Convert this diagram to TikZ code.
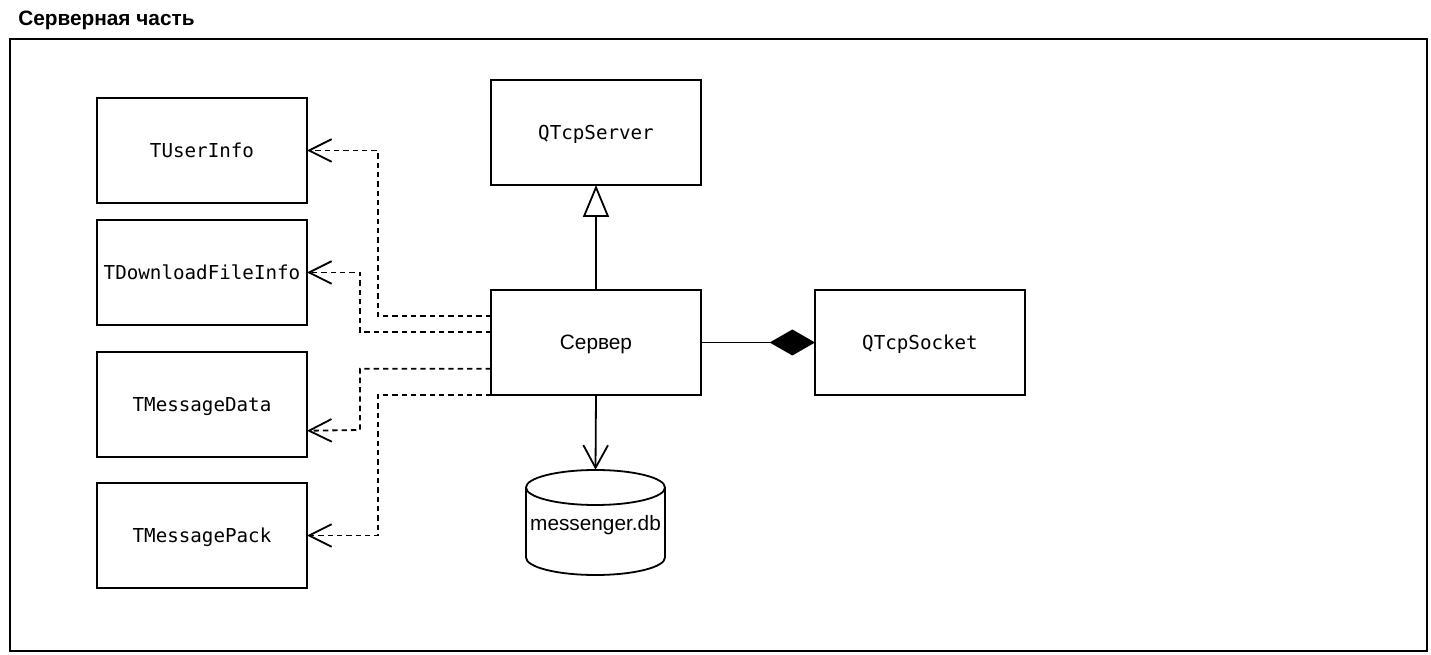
\documentclass[tikz,border=0pt]{standalone}
\usepackage{fontspec}
\setmainfont{Liberation Sans}
\newfontfamily\monofont{DejaVu Sans Mono}
\usetikzlibrary{arrows.meta,calc}
\begin{document}
\begin{tikzpicture}[x=0.75pt,y=-0.75pt,
  lw/.style={line width=1.35pt},
  box/.style={draw,lw,rectangle,minimum width=157.5pt,minimum height=78.75pt,inner sep=0pt,outer sep=0pt,fill=white,text depth=0pt},
  mono/.style={font=\monofont\fontsize{14.4pt}{16pt}\selectfont},
  sans/.style={font=\fontsize{15.6pt}{18pt}\selectfont},
  dep/.style={lw,dash pattern=on 4pt off 3pt,-{Straight Barb[length=17pt,width=17pt,line width=1.35pt]}},
  inh/.style={lw,-{Triangle[open,length=24pt,width=19.5pt,fill=white]}},
  comp/.style={lw,-{Diamond[length=34pt,width=19.5pt]}},
  assoc/.style={lw,-{Straight Barb[length=17pt,width=18.5pt,line width=1.35pt]}}
]
\useasboundingbox (0,0) rectangle (1431,655);
\node[anchor=base west,inner sep=0pt,font=\bfseries\fontsize{15.6pt}{18pt}\selectfont] (title) at (18,26) {Серверная часть};
\draw[lw] (10,39) rectangle (1427,651);

\node[box,mono] (tu) at (202,150.5) {TUserInfo};
\node[box,mono] (tdl) at (202,272.5) {TDownloadFileInfo};
\node[box,mono] (tmd) at (202,404.5) {TMessageData};
\node[box,mono] (tmp) at (202,535.5) {TMessagePack};
\node[box,mono] (qs) at (596,132.5) {QTcpServer};
\node[box,sans] (srv) at (596,342.5) {Сервер};
\node[box,mono] (qsock) at (920,342.5) {QTcpSocket};

% cylinder
\fill[white] (526,487.5) -- (526,557.5) arc[start angle=180,end angle=360,x radius=52.125pt,y radius=13.125pt] -- (665,487.5) arc[start angle=0,end angle=180,x radius=52.125pt,y radius=13.125pt] -- cycle;
\draw[lw] (526,487.5) -- (526,557.5) arc[start angle=180,end angle=360,x radius=52.125pt,y radius=13.125pt] -- (665,487.5);
\draw[lw] (595.5,487.5) ellipse [x radius=52.125pt,y radius=13.125pt];
\node[sans,inner sep=0pt,text depth=0pt,minimum width=104.25pt,minimum height=78.75pt] (db) at (595.5,522.5) {messenger.db};

% connectors
\draw[dep] ($(srv.north west)!0.25!(srv.south west)$) -| (378,150.5) -- (tu.east);
\draw[dep] ($(srv.north west)!0.4!(srv.south west)$) -| (360,272.5) -- (tdl.east);
\draw[dep] ($(srv.north west)!0.75!(srv.south west)$) -| (360,430) -- ($(tmd.north east)!0.75!(tmd.south east)$);
\draw[dep] (srv.south west) -| (378,535.5) -- (tmp.east);
\draw[inh] (srv.north) -- (qs.south);
\draw[comp] (srv.east) -- (qsock.west);
\draw[assoc] (srv.south) -- (db.north);
\end{tikzpicture}
\end{document}
